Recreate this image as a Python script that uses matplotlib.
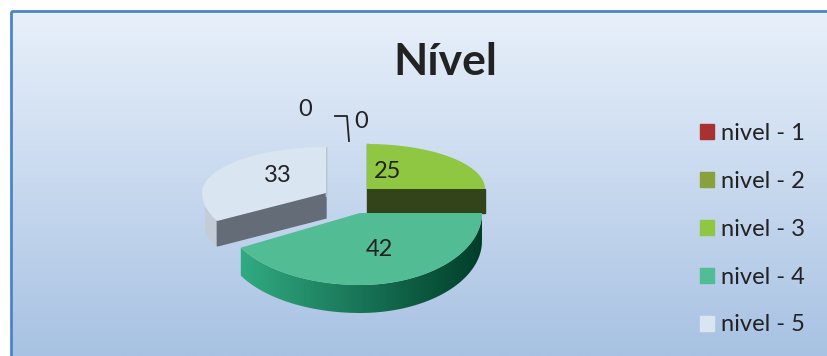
import numpy as np
import matplotlib
matplotlib.use('Agg')
import matplotlib.pyplot as plt
from matplotlib.patches import Polygon, Patch, Rectangle

plt.rcParams['font.family'] = ['Lato', 'DejaVu Sans']

title = 'Nível'
labels = ['nivel - 1', 'nivel - 2', 'nivel - 3', 'nivel - 4', 'nivel - 5']
values = [0, 0, 25, 42, 33]
colors = ['#a83232', '#88a13d', '#8fc743', '#52bd94', '#d9e5f1']
face_colors = ['#5c1a1a', '#4a5820', '#33441a', '#17805c', '#646c78']

# pie shape per slice in pixels: cx, cy, rx right, rx left, ry back, ry front
shapes = {2: (367, 189, 118, 118, 45, 45),
          3: (360, 213, 122, 136, 72, 72),
          4: (326, 193, 124, 124, 46, 58)}
depths = {2: 24, 3: 28, 4: 25}
label_pos = {2: (388, 171), 3: (379, 249), 4: (278, 175)}
zero_pos = {0: (305, 109), 1: (361, 121)}


def arc(shape, t0, t1, n=80):
    cx, cy, rx_r, rx_l, ry_b, ry_f = shape
    t = np.linspace(t0, t1, n)
    rx = np.where(np.sin(t) > 0, rx_r, rx_l)
    ry = np.where(np.cos(t) > 0, ry_b, ry_f)
    return np.column_stack([cx + rx * np.sin(t), cy - ry * np.cos(t)])


fig = plt.figure(figsize=(8.27, 3.56), dpi=100)
ax = fig.add_axes([0, 0, 1, 1])
ax.set_xlim(0, 827)
ax.set_ylim(356, 0)
ax.axis('off')

# panel background
grad = np.linspace(0, 1, 256)[:, None, None]
top = np.array([232, 240, 250]) / 255
bottom = np.array([168, 194, 227]) / 255
ax.imshow(top + (bottom - top) * grad, extent=(11, 827, 356, 11), aspect='auto', zorder=0)
ax.set_xlim(0, 827)
ax.set_ylim(356, 0)
ax.add_patch(Rectangle((10.5, 10.5), 830, 360, fill=False, ec='#4a86c5', lw=2, zorder=1))

ends = np.cumsum(values) / np.sum(values) * 2 * np.pi
starts = ends - np.array(values) / np.sum(values) * 2 * np.pi

for i in [4, 2, 3]:
    s = shapes[i]
    d = depths[i]
    t0, t1 = starts[i], ends[i]
    outer = arc(s, t0, t1)
    apex = np.array([s[0], s[1]])

    # cut faces
    if i == 2:
        p = outer[-1]
        ax.add_patch(Polygon([apex, p, p + [0, d], apex + [0, d]], color=face_colors[i], zorder=2))
        ax.add_patch(Polygon([apex, outer[0], outer[0] + [1, 0], apex + [1, 0]], color=face_colors[i], zorder=2))
    if i == 4:
        p = outer[0]
        ax.add_patch(Polygon([apex, p, p + [0, d], apex + [0, d]], color=face_colors[i], zorder=2))
        wall = arc(s, t0, t0 + 0.25)
        ax.add_patch(Polygon(np.vstack([wall, wall[::-1] + [0, d]]), color='#c3ccd6', zorder=1.9))
        ax.add_patch(Polygon([outer[-1], apex, apex + [0, 3], outer[-1] + [0, 3]], color='#b9c3cf', zorder=2))

    # outer wall of the front slice
    if i == 3:
        wall = arc(s, t0, t1)
        poly = Polygon(np.vstack([wall, wall[::-1] + [0, d]]), transform=ax.transData)
        x_grad = np.linspace(0, 1, 256)[None, :, None]
        left = np.array([52, 178, 136]) / 255
        right = np.array([0, 62, 42]) / 255
        im = ax.imshow(left + (right - left) * x_grad, aspect='auto', zorder=2.1,
                       extent=(s[0] - s[3], s[0] + s[2], s[1] + 110, s[1]))
        im.set_clip_path(poly)
        ax.set_xlim(0, 827)
        ax.set_ylim(356, 0)

    # top surface
    ax.add_patch(Polygon(np.vstack([apex, outer]), color=colors[i], zorder=3, lw=0))
    ax.text(*label_pos[i], str(values[i]), fontsize=17, color='#222222', ha='center', va='center', zorder=5)

# the two empty slices only get a label
for i, pos in zero_pos.items():
    ax.text(*pos, str(values[i]), fontsize=17, color='#222222', ha='center', va='center', zorder=5)
ax.plot([335, 347, 349], [116, 116, 141], color='#222222', lw=1.3, zorder=4)

ax.text(445, 62, title, fontsize=32, fontweight='bold', color='#222222', ha='center', va='center')

handles = [Patch(color=c) for c in colors]
leg = ax.legend(handles, labels, loc='upper left', bbox_to_anchor=(0.846, 0.655), frameon=False,
                fontsize=17, handlelength=0.62, handleheight=0.62, handletextpad=0.28,
                labelspacing=1.14, labelcolor='#222222', borderpad=0, borderaxespad=0)

fig.savefig('out.png', dpi=100)
